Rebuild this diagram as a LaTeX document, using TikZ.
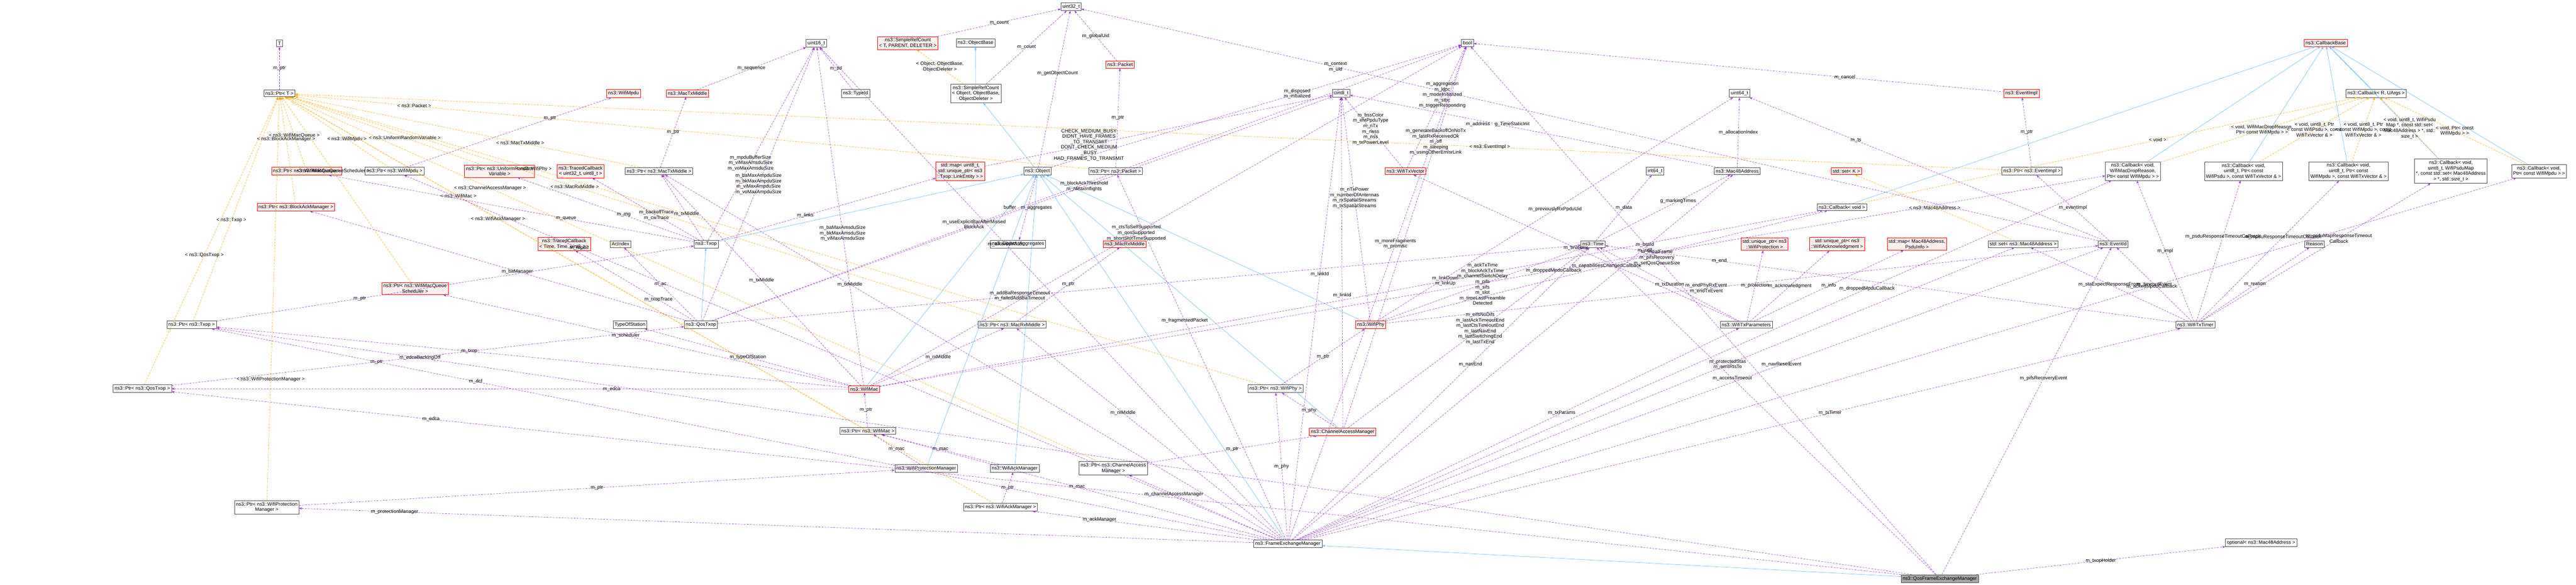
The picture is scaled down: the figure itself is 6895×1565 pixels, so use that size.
\documentclass[tikz,border=0pt]{standalone}
\usepackage{fontspec}
\setmainfont{Liberation Sans}
\usetikzlibrary{arrows.meta}
\newcommand{\fs}{\fontsize{6.5}{7.3}\selectfont}
\definecolor{mpurple}{HTML}{9A32CD}
\definecolor{morange}{HTML}{FFA500}
\definecolor{mblue}{HTML}{63B8FF}
\definecolor{rfill}{HTML}{FFF0F0}
\tikzset{
  box/.style={draw=gray!60!black, fill=white, inner xsep=2pt, inner ysep=2.2pt, align=center, font=\fs, line width=0.5pt},
  rbox/.style={box, draw=red, fill=rfill},
  gbox/.style={box, fill=gray!70},
  mem/.style={draw=mpurple, dash pattern=on 2.5pt off 1.5pt, -{Stealth[length=4pt,width=3pt]}, line width=0.4pt},
  tmpl/.style={draw=morange, dash pattern=on 2.5pt off 1.5pt, -{Stealth[length=4pt,width=3pt]}, line width=0.4pt},
  inh/.style={draw=mblue, -{Stealth[length=4pt,width=3pt]}, line width=0.4pt},
  lbl/.style={font=\fs, align=center, inner sep=1pt}
}
\begin{document}
\begin{tikzpicture}[x=0.5pt,y=-0.5pt]
\useasboundingbox (0,0) rectangle (6895,1565);
% nodes
\node[box] (T) at (748,116) {T};
\node[box] (ptrT) at (748,250) {ns3::Ptr< T >};
\node[rbox] (wifimpdu) at (1669,250) {ns3::WifiMpdu};
\node[rbox] (mactxmiddle) at (1840,250) {ns3::MacTxMiddle};
\node[box] (uint16) at (2185,116) {uint16\_t};
\node[box] (typeid) at (2290,250) {ns3::TypeId};
\node[box] (uint32) at (2867,18) {uint32\_t};
\node[rbox] (simplerefT) at (2430,115) {ns3::SimpleRefCount\\< T, PARENT, DELETER >};
\node[box] (objectbase) at (2611,115) {ns3::ObjectBase};
\node[rbox] (packet) at (2998,173) {ns3::Packet};
\node[box] (simplerefO) at (2612,250) {ns3::SimpleRefCount\\< Object, ObjectBase,\\ ObjectDeleter >};
\node[box] (bool) at (3928,115) {bool};
\node[box] (uint8) at (3590,250) {uint8\_t};
\node[box] (uint64) at (4656,250) {uint64\_t};
\node[rbox] (eventimpl) at (5411,250) {ns3::EventImpl};
\node[rbox] (callbackbase) at (6225,115) {ns3::CallbackBase};
\node[box] (callbackR) at (6360,250) {ns3::Callback< R, UArgs >};
\node[rbox] (ptrWMQ) at (821,458) {ns3::Ptr< ns3::WifiMacQueue >};
\node[box] (ptrWMpdu) at (1056,458) {ns3::Ptr< ns3::WifiMpdu >};
\node[rbox] (ptrURV) at (1337,458) {ns3::Ptr< ns3::UniformRandom\\Variable >};
\node[rbox] (tcbA) at (1554,458) {ns3::TracedCallback\\< uint32\_t, uint8\_t >};
\node[box] (ptrMTM) at (1764,458) {ns3::Ptr< ns3::MacTxMiddle >};
\node[rbox] (stdmapLink) at (2570,458) {std::map< uint8\_t,\\ std::unique\_ptr< ns3\\::Txop::LinkEntity > >};
\node[box] (object) at (2777,458) {ns3::Object};
\node[box] (ptrPacket) at (2986,458) {ns3::Ptr< ns3::Packet >};
\node[rbox] (wifitxvector) at (3762,458) {ns3::WifiTxVector};
\node[box] (int64) at (4430,458) {int64\_t};
\node[box] (mac48) at (4650,458) {ns3::Mac48Address};
\node[rbox] (setK) at (4942,458) {std::set< K >};
\node[box] (ptrEventImpl) at (5439,458) {ns3::Ptr< ns3::EventImpl >};
\node[box] (cbDrop) at (5709,458) {ns3::Callback< void,\\ WifiMacDropReason,\\ Ptr< const WifiMpdu > >};
\node[box] (cbPsdu) at (6005,458) {ns3::Callback< void,\\ uint8\_t, Ptr< const\\ WifiPsdu >, const WifiTxVector \& >};
\node[box] (cbMpdu) at (6286,458) {ns3::Callback< void,\\ uint8\_t, Ptr< const\\ WifiMpdu >, const WifiTxVector \& >};
\node[box] (cbPsduMap) at (6560,458) {ns3::Callback< void,\\ uint8\_t, WifiPsduMap\\ *, const std::set< Mac48Address\\ > *, std::size\_t >};
\node[box] (cbPtr) at (6796,458) {ns3::Callback< void,\\ Ptr< const WifiMpdu > >};
\node[rbox] (ptrBAM) at (792,554) {ns3::Ptr< ns3::BlockAckManager >};
\node[box] (cbVoid) at (4930,554) {ns3::Callback< void >};
\node[rbox] (tcbB) at (1510,653) {ns3::TracedCallback\\< Time, Time, uint8\_t >};
\node[box] (acindex) at (1661,653) {AcIndex};
\node[box] (txop) at (1890,653) {ns3::Txop};
\node[box] (aggregates) at (2725,653) {ns3::Object::Aggregates};
\node[rbox] (macrxmiddle) at (3010,653) {ns3::MacRxMiddle};
\node[box] (time) at (4264,653) {ns3::Time};
\node[rbox] (uptrProt) at (4723,653) {std::unique\_ptr< ns3\\::WifiProtection >};
\node[rbox] (uptrAck) at (4917,653) {std::unique\_ptr< ns3\\::WifiAcknowledgment >};
\node[rbox] (mapPsdu) at (5131,653) {std::map< Mac48Address,\\ PsduInfo >};
\node[box] (setMac) at (5415,653) {std::set< ns3::Mac48Address >};
\node[box] (eventid) at (5656,653) {ns3::EventId};
\node[box] (reason) at (6195,653) {Reason};
\node[rbox] (ptrWMQS) at (1111,772) {ns3::Ptr< ns3::WifiMacQueue\\Scheduler >};
\node[box] (ptrTxop) at (513,869) {ns3::Ptr< ns3::Txop >};
\node[box] (typeofstation) at (1686,869) {TypeOfStation};
\node[box] (qostxop) at (1876,869) {ns3::QosTxop};
\node[box] (ptrMRM) at (2709,869) {ns3::Ptr< ns3::MacRxMiddle >};
\node[rbox] (wifiphy) at (3669,869) {ns3::WifiPhy};
\node[box] (wifitxparams) at (4674,869) {ns3::WifiTxParameters};
\node[box] (wifitxtimer) at (5876,869) {ns3::WifiTxTimer};
\node[box] (ptrQosTxop) at (381,1040) {ns3::Ptr< ns3::QosTxop >};
\node[rbox] (wifimac) at (2313,1041) {ns3::WifiMac};
\node[box] (ptrWifiPhy) at (3414,1040) {ns3::Ptr< ns3::WifiPhy >};
\node[box] (ptrWifiMac) at (2323,1153) {ns3::Ptr< ns3::WifiMac >};
\node[rbox] (cam) at (3594,1155) {ns3::ChannelAccessManager};
\node[box] (ptrWPM) at (714,1357) {ns3::Ptr< ns3::WifiProtection\\Manager >};
\node[box] (wpm) at (2479,1253) {ns3::WifiProtectionManager};
\node[box] (wam) at (2716,1253) {ns3::WifiAckManager};
\node[box] (ptrCAM) at (2980,1253) {ns3::Ptr< ns3::ChannelAccess\\Manager >};
\node[box] (ptrWAM) at (2678,1357) {ns3::Ptr< ns3::WifiAckManager >};
\node[box] (fem) at (3447,1455) {ns3::FrameExchangeManager};
\node[box] (optional) at (6052,1452) {optional< ns3::Mac48Address >};
\node[gbox] (qosfem) at (5192,1548) {ns3::QosFrameExchangeManager};

% inheritance
\draw[inh] (simplerefO) -- (objectbase);
\draw[inh] (object) -- (simplerefO);
\draw[inh] (txop) -- (object);
\draw[inh] (qostxop) -- (txop);
\draw[inh] (wifimac) -- (object);
\draw[inh] (wifiphy) -- (object);
\draw[inh] (cam) -- (object);
\draw[inh] (fem) -- (object);
\draw[inh] (wpm) -- (object);
\draw[inh] (wam) -- (object);
\draw[inh] (qosfem) -- (fem);
\draw[inh] (cbVoid) -- (callbackbase);
\draw[inh] (callbackR) -- (callbackbase);
\draw[inh] (cbDrop) -- (callbackbase);
\draw[inh] (cbPsdu) -- (callbackbase);
\draw[inh] (cbMpdu) -- (callbackbase);
\draw[inh] (cbPsduMap) -- (callbackbase);
\draw[inh] (cbPtr) -- (callbackbase);

% template instances
\draw[tmpl] (simplerefO) -- node[lbl]{< Object, ObjectBase,\\ ObjectDeleter >} (simplerefT);
\draw[tmpl] (ptrWMQ) -- node[lbl,pos=0.45]{< ns3::WifiMacQueue >} (ptrT);
\draw[tmpl] (ptrBAM) -- node[lbl,pos=0.6]{< ns3::BlockAckManager >} (ptrT);
\draw[tmpl] (ptrWMpdu) -- node[lbl,pos=0.4]{< ns3::WifiMpdu >} (ptrT);
\draw[tmpl] (ptrURV) -- node[lbl,pos=0.4]{< ns3::UniformRandomVariable >} (ptrT);
\draw[tmpl] (ptrMTM) -- node[lbl,pos=0.35]{< ns3::MacTxMiddle >} (ptrT);
\draw[tmpl] (ptrWMQS) -- node[lbl,pos=0.6]{< ns3::WifiMacQueueScheduler >} (ptrT);
\draw[tmpl] (ptrTxop) -- node[lbl,pos=0.45]{< ns3::Txop >} (ptrT);
\draw[tmpl] (ptrQosTxop) -- node[lbl,pos=0.45]{< ns3::QosTxop >} (ptrT);
\draw[tmpl] (ptrWPM) -- node[lbl,pos=0.3]{< ns3::WifiProtectionManager >} (ptrT);
\draw[tmpl] (ptrWifiMac) -- node[lbl,pos=0.7]{< ns3::WifiMac >} (ptrT);
\draw[tmpl] (ptrWAM) -- node[lbl,pos=0.7]{< ns3::WifiAckManager >} (ptrT);
\draw[tmpl] (ptrCAM) -- node[lbl,pos=0.75]{< ns3::ChannelAccessManager >} (ptrT);
\draw[tmpl] (ptrWifiPhy) -- node[lbl,pos=0.75]{< ns3::WifiPhy >} (ptrT);
\draw[tmpl] (ptrMRM) -- node[lbl,pos=0.6]{< ns3::MacRxMiddle >} (ptrT);
\draw[tmpl] (ptrPacket) -- node[lbl,pos=0.85]{< ns3::Packet >} (ptrT);
\draw[tmpl] (ptrEventImpl) -- node[lbl,pos=0.3]{< ns3::EventImpl >} (ptrT);
\draw[tmpl] (setMac) -- node[lbl]{< ns3::Mac48Address >} (setK);
\draw[tmpl] (cbDrop) -- node[lbl]{< void, WifiMacDropReason,\\ Ptr< const WifiMpdu > >} (callbackR);
\draw[tmpl] (cbVoid) -- node[lbl,pos=0.6]{< void >} (callbackR);
\draw[tmpl] (cbPsdu) -- node[lbl]{< void, uint8\_t, Ptr\\< const WifiPsdu >, const\\ WifiTxVector \& >} (callbackR);
\draw[tmpl] (cbMpdu) -- node[lbl]{< void, uint8\_t, Ptr\\< const WifiMpdu >, const\\ WifiTxVector \& >} (callbackR);
\draw[tmpl] (cbPsduMap) -- node[lbl]{< void, uint8\_t, WifiPsdu\\Map *, const std::set<\\ Mac48Address > *, std::\\size\_t >} (callbackR);
\draw[tmpl] (cbPtr) -- node[lbl]{< void, Ptr< const\\ WifiMpdu > >} (callbackR);

% members
\draw[mem] (ptrT) -- node[lbl]{m\_ptr} (T);
\draw[mem] (ptrWMpdu) -- node[lbl,pos=0.7]{m\_ptr} (wifimpdu);
\draw[mem] (ptrMTM) -- node[lbl]{m\_ptr} (mactxmiddle);
\draw[mem] (mactxmiddle) -- node[lbl]{m\_sequence} (uint16);
\draw[mem] (simplerefT) -- node[lbl]{m\_count} (uint32);
\draw[mem] (simplerefO) -- node[lbl]{m\_count} (uint32);
\draw[mem] (object) -- node[lbl,pos=0.6]{m\_getObjectCount} (uint32);
\draw[mem] (packet) -- node[lbl]{m\_globalUid} (uint32);
\draw[mem] (ptrPacket) -- node[lbl]{m\_ptr} (packet);
\draw[mem] (object) -- node[lbl,pos=0.6]{m\_disposed\\m\_initialized} (bool);
\draw[mem] (object) -- node[lbl]{buffer\quad m\_aggregates} (aggregates);
\draw[mem] (wifitxvector) -- node[lbl,pos=0.6]{m\_aggregation\\m\_ldpc\\m\_modeInitialized\\m\_stbc\\m\_triggerResponding} (bool);
\draw[mem] (wifitxvector) -- node[lbl,pos=0.55]{m\_bssColor\\m\_ehtPpduType\\m\_nTx\\m\_ness\\m\_nss\\m\_txPowerLevel} (uint8);
\draw[mem] (ptrEventImpl) -- node[lbl]{m\_ptr} (eventimpl);
\draw[mem] (eventimpl) -- node[lbl,pos=0.3]{m\_cancel} (bool);
\draw[mem] (eventid) -- node[lbl,pos=0.75]{m\_context\\m\_uid} (uint32);
\draw[mem] (eventid) -- node[lbl,pos=0.7]{m\_ts} (uint64);
\draw[mem] (eventid) -- node[lbl]{m\_eventImpl} (ptrEventImpl);
\draw[mem] (mac48) -- node[lbl,pos=0.6]{m\_address\quad g\_TimeStaticInit} (uint8);
\draw[mem] (mac48) -- node[lbl]{m\_allocationIndex} (uint64);
\draw[mem] (time) -- node[lbl]{m\_data} (int64);
\draw[mem] (time) -- node[lbl,pos=0.6]{g\_markingTimes} (mac48);
\draw[mem] (typeid) -- node[lbl]{m\_tid} (uint16);
% txop
\draw[mem] (txop) -- node[lbl,pos=0.35]{m\_queue} (ptrWMQ);
\draw[mem] (txop) -- node[lbl,pos=0.4]{m\_rng} (ptrURV);
\draw[mem] (txop) -- node[lbl,pos=0.4]{m\_backoffTrace\\m\_cwTrace} (tcbA);
\draw[mem] (txop) -- node[lbl,pos=0.4]{m\_txMiddle} (ptrMTM);
\draw[mem] (txop) -- node[lbl,pos=0.4]{m\_links} (stdmapLink);
\draw[mem] (txop) -- node[lbl,pos=0.4]{m\_mpduBufferSize\\m\_viMaxAmsduSize\\m\_voMaxAmsduSize} (uint16);
\draw[mem] (stdmapLink) -- node[lbl,pos=0.3]{CHECK\_MEDIUM\_BUSY\\DIDNT\_HAVE\_FRAMES\\\_TO\_TRANSMIT\\DONT\_CHECK\_MEDIUM\\\_BUSY\\HAD\_FRAMES\_TO\_TRANSMIT} (uint8);
\draw[mem] (qostxop) -- node[lbl,pos=0.5]{m\_ac} (acindex);
\draw[mem] (qostxop) -- node[lbl,pos=0.3]{m\_txopTrace} (tcbB);
\draw[mem] (qostxop) -- node[lbl,pos=0.45]{m\_baManager} (ptrBAM);
\draw[mem] (qostxop) -- node[lbl,pos=0.5]{m\_baMaxAmpduSize\\m\_bkMaxAmpduSize\\m\_viMaxAmpduSize\\m\_voMaxAmpduSize} (uint16);
\draw[mem] (qostxop) -- node[lbl,pos=0.6]{m\_blockAckThreshold\\m\_nMaxInflights} (uint8);
\draw[mem] (qostxop) -- node[lbl,pos=0.35]{m\_addBaResponseTimeout\\m\_failedAddBaTimeout} (time);
\draw[mem] (qostxop) -- node[lbl,pos=0.35]{m\_useExplicitBarAfterMissed\\BlockAck} (bool);
% wifimac
\draw[mem] (wifimac) -- node[lbl,pos=0.6]{m\_txop} (ptrTxop);
\draw[mem] (wifimac) -- node[lbl,pos=0.55]{m\_scheduler} (ptrWMQS);
\draw[mem] (wifimac) -- node[lbl,pos=0.5]{m\_typeOfStation} (typeofstation);
\draw[mem] (wifimac) -- node[lbl,pos=0.35]{m\_edca} (ptrQosTxop);
\draw[mem] (wifimac) -- node[lbl,pos=0.5]{m\_rxMiddle} (ptrMRM);
\draw[mem] (wifimac) -- node[lbl,pos=0.5]{m\_txMiddle} (ptrMTM);
\draw[mem] (wifimac) -- node[lbl,pos=0.45]{m\_baMaxAmsduSize\\m\_bkMaxAmsduSize\\m\_viMaxAmsduSize} (uint16);
\draw[mem] (wifimac) -- node[lbl,pos=0.45]{m\_ctsToSelfSupported\\m\_qosSupported\\m\_shortSlotTimeSupported} (bool);
\draw[mem] (wifimac) -- node[lbl,pos=0.55]{m\_droppedMpduCallback} (cbDrop);
\draw[mem] (wifimac) -- node[lbl,pos=0.6]{m\_linkDown\\m\_linkUp} (cbVoid);
% ptrs
\draw[mem] (ptrQosTxop) -- node[lbl,pos=0.4]{m\_ptr} (qostxop);
\draw[mem] (ptrTxop) -- node[lbl,pos=0.3]{m\_ptr} (txop);
\draw[mem] (ptrWifiMac) -- node[lbl]{m\_ptr} (wifimac);
\draw[mem] (ptrWifiPhy) -- node[lbl]{m\_ptr} (wifiphy);
\draw[mem] (ptrCAM) -- node[lbl]{m\_ptr} (cam);
\draw[mem] (ptrWAM) -- node[lbl]{m\_ptr} (wam);
\draw[mem] (ptrWPM) -- node[lbl]{m\_ptr} (wpm);
\draw[mem] (ptrMRM) -- node[lbl]{m\_ptr} (macrxmiddle);
\draw[mem] (wpm) -- node[lbl]{m\_mac} (ptrWifiMac);
\draw[mem] (wam) -- node[lbl]{m\_mac} (ptrWifiMac);
% cam, phy
\draw[mem] (cam) -- node[lbl]{m\_phy} (ptrWifiPhy);
\draw[mem] (cam) -- node[lbl,pos=0.55]{m\_eifsNoDifs\\m\_lastAckTimeoutEnd\\m\_lastCtsTimeoutEnd\\m\_lastNavEnd\\m\_lastSwitchingEnd\\m\_lastTxEnd} (time);
\draw[mem] (cam) -- node[lbl,pos=0.75]{m\_generateBackoffOnNoTx\\m\_lastRxReceivedOk\\m\_off\\m\_sleeping\\m\_usingOtherEmlsrLink} (bool);
\draw[mem] (cam) -- node[lbl,pos=0.4]{m\_linkId} (uint8);
\draw[mem] (wifiphy) -- node[lbl,pos=0.5]{m\_ackTxTime\\m\_blockAckTxTime\\m\_channelSwitchDelay\\m\_pifs\\m\_sifs\\m\_slot\\m\_timeLastPreamble\\Detected} (time);
\draw[mem] (wifiphy) -- node[lbl,pos=0.55]{m\_nTxPower\\m\_numberOfAntennas\\m\_rxSpatialStreams\\m\_txSpatialStreams} (uint8);
\draw[mem] (wifiphy) -- node[lbl,pos=0.5]{m\_previouslyRxPpduUid} (uint64);
\draw[mem] (wifiphy) -- node[lbl,pos=0.45]{m\_endPhyRxEvent\\m\_endTxEvent} (eventid);
\draw[mem] (wifiphy) -- node[lbl,pos=0.5]{m\_capabilitiesChangedCallback} (cbVoid);
% tx params
\draw[mem] (wifitxparams) -- node[lbl]{m\_txVector} (wifitxvector);
\draw[mem] (wifitxparams) -- node[lbl]{m\_protection} (uptrProt);
\draw[mem] (wifitxparams) -- node[lbl]{m\_acknowledgment} (uptrAck);
\draw[mem] (wifitxparams) -- node[lbl]{m\_info} (mapPsdu);
\draw[mem] (wifitxparams) -- node[lbl]{m\_txDuration} (time);
% tx timer
\draw[mem] (wifitxtimer) -- node[lbl]{m\_timeoutEvent} (eventid);
\draw[mem] (wifitxtimer) -- node[lbl]{m\_reason} (reason);
\draw[mem] (wifitxtimer) -- node[lbl,pos=0.6]{m\_psduResponseTimeoutCallback} (cbPsdu);
\draw[mem] (wifitxtimer) -- node[lbl,pos=0.6]{m\_mpduResponseTimeoutCallback} (cbMpdu);
\draw[mem] (wifitxtimer) -- node[lbl,pos=0.6]{m\_psduMapResponseTimeout\\Callback} (cbPsduMap);
\draw[mem] (wifitxtimer) -- node[lbl]{m\_staExpectResponseFrom} (setMac);
\draw[mem] (wifitxtimer) -- node[lbl,pos=0.8]{m\_end} (time);
\draw[mem] (wifitxtimer) -- node[lbl,pos=0.5]{m\_impl} (cbDrop);
% fem
\draw[mem] (fem) -- node[lbl]{m\_mac} (ptrWifiMac);
\draw[mem] (fem) -- node[lbl,pos=0.7]{m\_ackManager} (ptrWAM);
\draw[mem] (fem) -- node[lbl,pos=0.9]{m\_protectionManager} (ptrWPM);
\draw[mem] (fem) -- node[lbl,pos=0.7]{m\_channelAccessManager} (ptrCAM);
\draw[mem] (fem) -- node[lbl,pos=0.5]{m\_phy} (ptrWifiPhy);
\draw[mem] (fem) -- node[lbl,pos=0.6]{m\_rxMiddle} (ptrMRM);
\draw[mem] (fem) -- node[lbl,pos=0.7]{m\_txMiddle} (ptrMTM);
\draw[mem] (fem) -- node[lbl,pos=0.75]{m\_dcf} (ptrTxop);
\draw[mem] (fem) -- node[lbl,pos=0.8]{m\_mpdu} (ptrWMpdu);
\draw[mem] (fem) -- node[lbl,pos=0.6]{m\_fragmentedPacket} (ptrPacket);
\draw[mem] (fem) -- node[lbl,pos=0.6]{m\_linkId} (uint8);
\draw[mem] (fem) -- node[lbl,pos=0.6]{m\_moreFragments\\m\_promisc} (bool);
\draw[mem] (fem) -- node[lbl,pos=0.6]{m\_navEnd} (time);
\draw[mem] (fem) -- node[lbl,pos=0.8]{m\_bssid\\m\_self} (mac48);
\draw[mem] (fem) -- node[lbl,pos=0.6]{m\_txParams} (wifitxparams);
\draw[mem] (fem) -- node[lbl,pos=0.6]{m\_txTimer} (wifitxtimer);
\draw[mem] (fem) -- node[lbl,pos=0.6]{m\_protectedStas\\m\_sentRtsTo} (setMac);
\draw[mem] (fem) -- node[lbl,pos=0.6]{m\_navResetEvent} (eventid);
\draw[mem] (fem) -- node[lbl,pos=0.7]{m\_droppedMpduCallback} (cbDrop);
\draw[mem] (fem) -- node[lbl,pos=0.7]{m\_ackedMpduCallback} (cbPtr);
\draw[mem] (fem) -- node[lbl,pos=0.6]{m\_allowedWidth} (uint16);
% qosfem
\draw[mem] (qosfem) -- node[lbl,pos=0.85]{m\_edca} (ptrQosTxop);
\draw[mem] (qosfem) -- node[lbl,pos=0.88]{m\_edcaBackingOff} (ptrTxop);
\draw[mem] (qosfem) -- node[lbl]{m\_txopHolder} (optional);
\draw[mem] (qosfem) -- node[lbl,pos=0.6]{m\_pifsRecoveryEvent} (eventid);
\draw[mem] (qosfem) -- node[lbl,pos=0.6]{m\_initialFrame\\m\_pifsRecovery\\m\_setQosQueueSize} (bool);
\draw[mem] (qosfem) -- node[lbl,pos=0.6]{m\_accessTimeout} (time);
\end{tikzpicture}
\end{document}
